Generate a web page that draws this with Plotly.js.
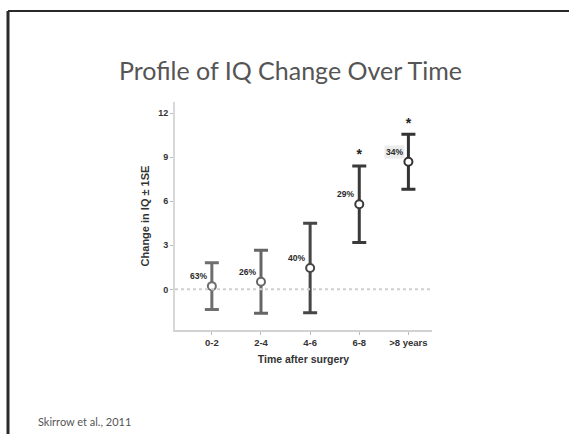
<!DOCTYPE html>
<html>
<head>
<meta charset="utf-8">
<script src="https://cdn.plot.ly/plotly-3.0.1.min.js"></script>
<style>
html,body{margin:0;padding:0;background:#fff;}
#chart{width:569px;height:434px;}
</style>
</head>
<body>
<div id="chart"></div>
<script>
// Data
const categories = ['0-2', '2-4', '4-6', '6-8', '>8 years'];
const meanChange = [0.22, 0.52, 1.45, 5.8, 8.7];
const seChange = [1.6, 2.15, 3.05, 2.6, 1.88];
const pctLabels = ['63%', '26%', '40%', '29%', '34%'];
const sigCategories = ['6-8', '>8 years'];
const sigY = [9.1, 11.25];
const yTicks = [0, 3, 6, 9, 12];

const barColors = ['#6e6e6e', '#666666', '#464646', '#3a3a3a', '#333333'];

const traces = categories.map((c, i) => ({
  type: 'scatter',
  mode: 'markers',
  x: [c],
  y: [meanChange[i]],
  error_y: {type: 'data', array: [seChange[i]], visible: true, color: barColors[i], thickness: 3, width: 7},
  marker: {symbol: 'circle', size: 8, color: '#ffffff', line: {color: barColors[i], width: 2}},
  hoverinfo: 'skip',
  showlegend: false
}));

traces.push({
  type: 'scatter',
  mode: 'text',
  x: sigCategories,
  y: sigY,
  text: sigCategories.map(() => '<b>*</b>'),
  textfont: {family: 'Liberation Sans, Arial, sans-serif', size: 14, color: '#222'},
  textposition: 'middle center',
  hoverinfo: 'skip',
  showlegend: false
});

const annotations = categories.map((c, i) => ({
  x: c, y: meanChange[i], xref: 'x', yref: 'y',
  text: '<b>' + pctLabels[i] + '</b>',
  showarrow: false, xanchor: 'right', yanchor: 'middle',
  xshift: -3, yshift: 10,
  bgcolor: i === 4 ? '#ececec' : 'rgba(0,0,0,0)',
  borderpad: 1,
  font: {family: 'Liberation Sans, Arial, sans-serif', size: 8.5, color: '#2a2a2a'}
}));

annotations.push({
  xref: 'paper', yref: 'paper', x: (290 - 175) / 257, y: (330 - 70) / 228,
  xanchor: 'center', yanchor: 'middle', showarrow: false,
  text: 'Profile of IQ Change Over Time',
  font: {family: 'Lato, Open Sans, sans-serif', size: 25, color: '#555'}
});
annotations.push({
  xref: 'paper', yref: 'paper', x: (36 - 175) / 257, y: (330 - 421) / 228,
  xanchor: 'left', yanchor: 'middle', showarrow: false,
  text: 'Skirrow et al., 2011',
  font: {family: 'Lato, Open Sans, sans-serif', size: 11, color: '#555'}
});

const shapes = [
  {type: 'line', xref: 'paper', yref: 'y', x0: 0, x1: 1, y0: 0, y1: 0,
   line: {color: '#cfcfcf', width: 2, dash: 'dot'}},
  {type: 'line', xref: 'paper', yref: 'paper', x0: (8 - 175) / 257, x1: 1.6, y0: (330 - 11) / 228, y1: (330 - 11) / 228,
   line: {color: '#2a2a2a', width: 2}},
  {type: 'line', xref: 'paper', yref: 'paper', x0: (8 - 175) / 257, x1: (8 - 175) / 257, y0: (330 - 11) / 228, y1: -0.6,
   line: {color: '#2a2a2a', width: 3}}
];

const layout = {
  width: 569, height: 434,
  margin: {l: 175, r: 137, t: 102, b: 104},
  paper_bgcolor: '#ffffff', plot_bgcolor: '#ffffff',
  showlegend: false,
  xaxis: {
    type: 'category', range: [-0.75, 4.48],
    showgrid: false, zeroline: false,
    showline: true, linecolor: '#d2d2d2', linewidth: 2,
    ticks: 'outside', ticklen: 3, tickcolor: '#bbb', tickwidth: 1,
    tickfont: {family: 'Liberation Sans, Arial, sans-serif', size: 9.5, color: '#333', weight: 'bold'},
    title: {text: '<b>Time after surgery</b>', standoff: 8,
            font: {family: 'Liberation Sans, Arial, sans-serif', size: 10.5, color: '#333'}}
  },
  yaxis: {
    range: [-2.77, 12.77],
    tickvals: yTicks, ticktext: yTicks.map(String),
    showgrid: false, zeroline: false,
    showline: true, linecolor: '#d8d8d8', linewidth: 2,
    ticks: 'outside', ticklen: 3, tickcolor: '#bbb', tickwidth: 1,
    tickfont: {family: 'Liberation Sans, Arial, sans-serif', size: 9, color: '#333', weight: 'bold'},
    title: {text: '<b>Change in IQ ± 1SE</b>', standoff: 6,
            font: {family: 'Liberation Sans, Arial, sans-serif', size: 11, color: '#333'}}
  },
  annotations: annotations,
  shapes: shapes
};

Plotly.newPlot('chart', traces, layout, {displayModeBar: false, staticPlot: true});
</script>
</body>
</html>
